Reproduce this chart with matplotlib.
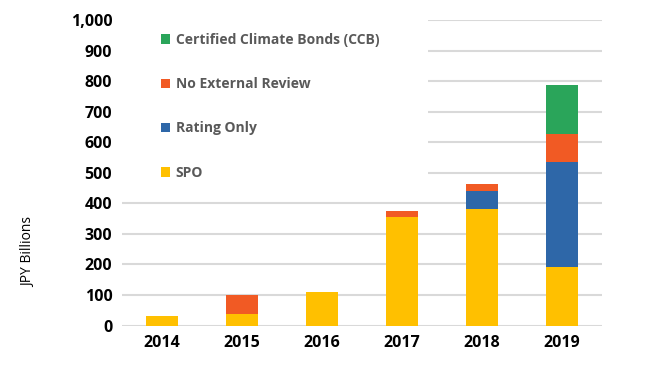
# Stacked bars: green bonds by external review type
import matplotlib.pyplot as plt
from matplotlib.patches import Rectangle
from matplotlib.ticker import FuncFormatter

plt.rcParams["font.family"] = ["Open Sans", "DejaVu Sans"]

years = ["2014", "2015", "2016", "2017", "2018", "2019"]
spo = [30, 37, 109, 355, 381, 191]
rating_only = [0, 0, 0, 0, 59, 345]
no_review = [0, 63, 0, 20, 22, 92]
ccb = [0, 0, 0, 0, 0, 160]

series = [
    ("SPO", spo, "#FFC000"),
    ("Rating Only", rating_only, "#2E67A8"),
    ("No External Review", no_review, "#F15A24"),
    ("Certified Climate Bonds (CCB)", ccb, "#2AA55A"),
]

fig = plt.figure(figsize=(6.5, 3.91), dpi=100)
ax = fig.add_axes([0.1877, 0.1675, 0.7385, 0.7813])

x = range(len(years))
bottom = [0] * len(years)
for name, vals, col in series:
    ax.bar(x, vals, width=0.4, bottom=bottom, color=col, label=name, zorder=3)
    bottom = [b + v for b, v in zip(bottom, vals)]

ax.set_xlim(-0.5, 5.5)
ax.set_ylim(0, 1000)
ax.set_yticks(range(0, 1001, 100))
ax.yaxis.set_major_formatter(FuncFormatter(lambda v, p: f"{int(v):,}"))
ax.set_xticks(list(x))
ax.set_xticklabels(years)
ax.grid(axis="y", color="#d9d9d9", linewidth=1.5, zorder=0)
ax.set_axisbelow(True)
for s in ax.spines.values():
    s.set_visible(False)
ax.tick_params(length=0, labelsize=11.5, pad=7)
for lab in ax.get_xticklabels() + ax.get_yticklabels():
    lab.set_fontweight("bold")

# white box behind the legend hides the gridlines, like in Excel
ax.add_patch(Rectangle((0, 0.477), 0.6375, 0.54, transform=ax.transAxes,
                       facecolor="white", edgecolor="none", zorder=1, clip_on=False))

fig.text(0.044, 0.355, "JPY Billions", rotation=90, fontsize=10,
         va="center", ha="center")

h, l = ax.get_legend_handles_labels()
leg = ax.legend(h[::-1], l[::-1], loc="upper left", bbox_to_anchor=(0.232, 0.94),
                bbox_transform=fig.transFigure, frameon=False,
                handlelength=0.7, handleheight=0.7, handletextpad=0.4,
                labelspacing=2.17, fontsize=10, borderpad=0.2)
for t in leg.get_texts():
    t.set_color("#595959")
    t.set_fontweight("bold")

fig.savefig("out.png")
